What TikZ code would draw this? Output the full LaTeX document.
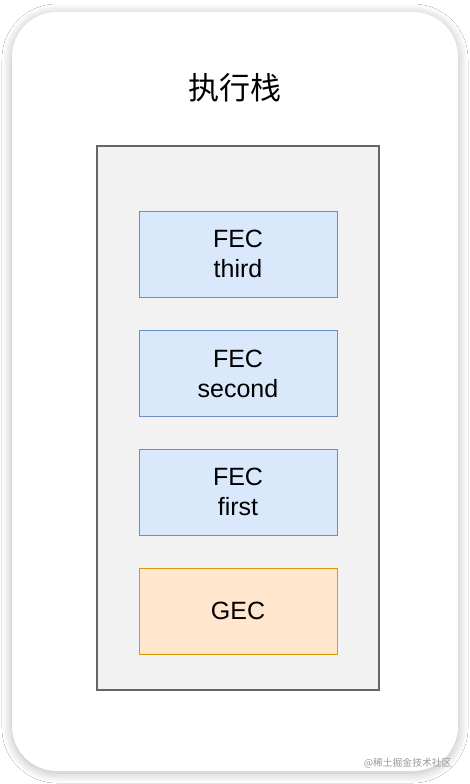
\documentclass[tikz,border=0pt]{standalone}
\usepackage{fontspec}
\setmainfont{Liberation Sans}
\newfontfamily\cjk{Noto Sans CJK SC}
\usetikzlibrary{shadows.blur}
\definecolor{fecfill}{HTML}{DAE8FC}
\definecolor{fecdraw}{HTML}{6C8EBF}
\definecolor{gecfill}{HTML}{FFE6CC}
\definecolor{gecdraw}{HTML}{D79B00}
\definecolor{stackfill}{HTML}{F2F2F2}
\definecolor{stackdraw}{HTML}{666666}
\tikzset{
  card/.style={fill=white, draw=none, rounded corners=45pt,
    blur shadow={shadow xshift=0pt, shadow yshift=-2pt, shadow blur radius=10pt, shadow blur steps=20, shadow opacity=28}},
  stackbox/.style={fill=stackfill, draw=stackdraw, line width=1.2pt},
  fecbox/.style={fill=fecfill, draw=fecdraw, line width=1pt, minimum width=198pt, minimum height=86pt,
    inner sep=0pt, align=center, font=\fontsize{25}{30}\selectfont},
  gecbox/.style={fecbox, fill=gecfill, draw=gecdraw},
}
\begin{document}
\begin{tikzpicture}[x=1pt,y=-1pt]
\useasboundingbox (0,0) rectangle (470,784);
\fill[white] (0,0) rectangle (470,784);
\path[card] (12,12) rectangle (458,771);
\node[font=\cjk\fontsize{31}{36}\selectfont] (title) at (235,88) {执行栈};
\draw[stackbox] (97,146) rectangle (379,690);
\node[fecbox] (third) at (238,254) {FEC\\third};
\node[fecbox] (second) at (238,373.5) {FEC\\second};
\node[fecbox] (first) at (238,492) {FEC\\first};
\node[gecbox] (gec) at (238,611) {GEC};
\node[anchor=east, text=black!40, font=\cjk\fontsize{9.8}{12}\selectfont] (wm) at (455,763) {@稀土掘金技术社区};
\end{tikzpicture}
\end{document}
